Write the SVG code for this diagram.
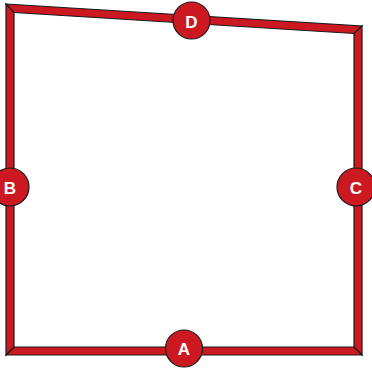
<svg xmlns="http://www.w3.org/2000/svg" width="372" height="369" viewBox="0 0 372 369">
<style>
.wall{fill:#cc1820;stroke:#1a1a1a;stroke-width:1.2;stroke-linejoin:miter}
.node circle{fill:#cc1820;stroke:#1a1a1a;stroke-width:1.2}
.node text{fill:#ffffff;font-family:"Liberation Sans",Arial,sans-serif;font-weight:bold;font-size:17px;text-anchor:middle;dominant-baseline:central}
</style>
<rect width="372" height="369" fill="#ffffff"/>
<g id="connectors">
<polygon class="wall" points="6,4 362,26 354,33.5 14,12.5"/>
<polygon class="wall" points="362,26 362,355 354,347 354,33.5"/>
<polygon class="wall" points="362,355 6,355 14,347 354,347"/>
<polygon class="wall" points="6,355 6,4 14,12.5 14,347"/>
</g>
<g id="node-D" class="node"><circle cx="191.5" cy="20.5" r="18.5"/><text x="191.5" y="22">D</text></g>
<g id="node-B" class="node"><circle cx="10" cy="187" r="19"/><text x="10" y="188">B</text></g>
<g id="node-C" class="node"><circle cx="356" cy="187" r="19"/><text x="356" y="188">C</text></g>
<g id="node-A" class="node"><circle cx="184" cy="348.5" r="18.5"/><text x="184" y="349">A</text></g>
</svg>
